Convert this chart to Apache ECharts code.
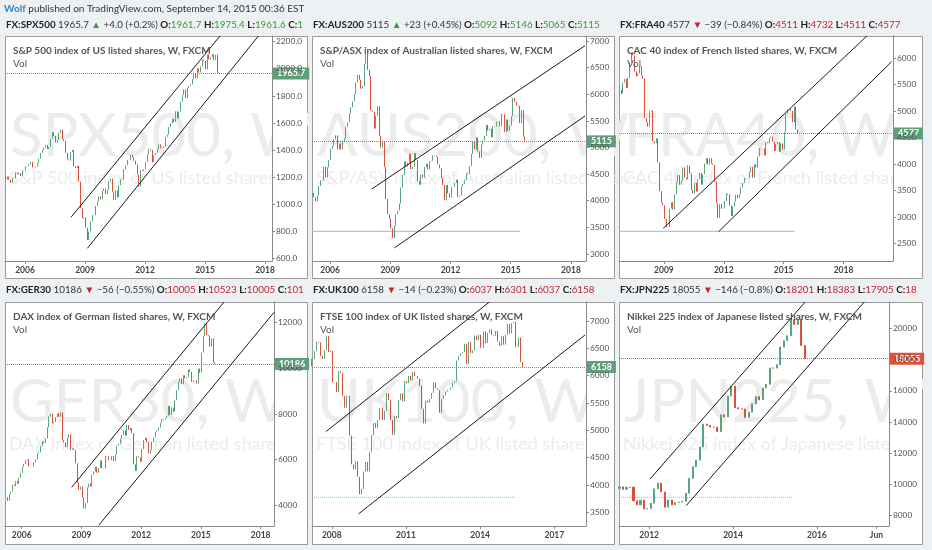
<!DOCTYPE html>
<html><head><meta charset="utf-8">
<script src="https://cdn.jsdelivr.net/npm/echarts@6/dist/echarts.min.js"></script>
<style>html,body{margin:0;padding:0;background:#eef1f4}#c{width:932px;height:550px}</style>
</head><body><div id="c"></div>
<script>
// ---------- texts ----------
const symbols = ['FX:SPX500','FX:AUS200','FX:FRA40','FX:GER30','FX:UK100','FX:JPN225'];
const lastPrices = ['1965.7','5115','4577','10186','6158','18055'];
const directions = ['up','up','down','down','down','down'];
const changes = ['+4.0 (+0.2%)','+23 (+0.45%)','\u221239 (\u22120.84%)','\u221256 (\u22120.55%)','\u221214 (\u22120.23%)','\u2212146 (\u22120.8%)'];
const opensTxt = ['1961.7','5092','4511','10005','6037','18201'];
const highsTxt = ['1975.4','5146','4732','10523','6301','18383'];
const lowsTxt = ['1961.6','5065','4511','10005','6037','17905'];
const closesTxt = ['1965.7','5115','4577','10186','6158','18055'];
const titles = ['S&P 500 index of US listed shares, W, FXCM','S&P/ASX index of Australian listed shares, W, FXCM','CAC 40 index of French listed shares, W, FXCM','DAX index of German listed shares, W, FXCM','FTSE 100 index of UK listed shares, W, FXCM','Nikkei 225 index of Japanese listed shares, W, FXCM'];
const watermarks = ['SPX500, W','AUS200, W','FRA40, W','GER30, W','UK100, W','JPN225, W'];
const descs = ['S&P 500 index of US listed shares','S&P/ASX index of Australian listed shares','CAC 40 index of French listed shares','DAX index of German listed shares','FTSE 100 index of UK listed shares','Nikkei 225 index of Japanese listed shares'];

// ---------- monthly closes ----------
const spxStart = [2005, 1], spxOpen0 = 1212;
const spxClose = [1181,1204,1181,1157,1192,1191,1234,1220,1229,1207,1249,1248,
1280,1281,1295,1311,1270,1270,1277,1304,1336,1378,1401,1418,
1438,1407,1421,1482,1531,1503,1455,1474,1527,1549,1481,1468,
1379,1331,1323,1386,1400,1280,1267,1283,1166,969,896,903,
826,735,798,873,919,919,987,1021,1057,1036,1096,1115,
1074,1104,1169,1187,1089,1031,1102,1049,1141,1183,1181,1258,
1286,1327,1326,1364,1345,1321,1292,1219,1131,1253,1247,1258,
1312,1366,1408,1398,1310,1362,1379,1407,1441,1412,1416,1426,
1498,1515,1569,1598,1631,1606,1686,1633,1682,1757,1806,1848,
1783,1859,1872,1884,1924,1960,1931,2003,1972,2018,2068,2059,
1995,2105,2068,2086,2107,2063,2104,1972,1966];

const ausStart = [2005, 2], ausOpen0 = 4106;
const ausClose = [4145,4068,3986,4098,4278,4387,4382,4641,4435,4629,4763,
4977,5024,5155,5229,4972,5074,4963,5108,5172,5386,5475,5644,
5757,5868,5995,6222,6365,6274,6104,6149,6573,6754,6460,6340,
5697,5673,5356,5598,5773,5216,4999,5116,4631,4032,3745,3659,
3478,3297,3532,3745,3813,3948,4249,4484,4739,4645,4716,4883,
4596,4640,4893,4763,4367,4301,4493,4433,4632,4695,4585,4745,
4754,4848,4842,4823,4681,4608,4425,4296,4008,4298,4140,4057,
4254,4264,4335,4396,4076,4095,4269,4316,4387,4517,4506,4649,
4879,5104,4966,5191,4926,4803,5052,5135,5218,5425,5320,5352,
5190,5405,5395,5489,5492,5396,5633,5625,5292,5527,5313,5411,
5588,5929,5861,5790,5777,5459,5699,5207,5115];

const cacStart = [2006, 10], cacOpen0 = 5250;
const cacClose = [5400,5330,5542,
5609,5434,5634,5925,6105,6055,5751,5662,5716,5848,5670,5614,
4870,4790,4707,4997,5014,4434,4392,4485,4033,3487,3263,3218,
2962,2808,2807,3159,3277,3140,3426,3653,3796,3607,3680,3936,
3739,3708,3974,3817,3508,3443,3643,3477,3715,3833,3610,3805,
4005,4110,3989,4107,4007,3982,3672,3256,2982,3242,3155,3160,
3298,3442,3424,3213,3017,3197,3291,3413,3355,3429,3557,3641,
3733,3723,3731,3856,3949,3739,3993,3934,4143,4299,4295,4296,
4165,4408,4392,4487,4519,4423,4247,4381,4416,4233,4390,4273,
4605,4951,5034,5046,5008,4790,5083,4653,4577];

const daxStart = [2005, 3], daxOpen0 = 4350;
const daxClose = [4349,4185,4460,4587,4886,4829,5044,4929,5193,5408,
5674,5797,5970,6009,5693,5683,5682,5860,6005,6269,6309,6597,
6789,6716,6917,7409,7884,8007,7584,7638,7862,8020,7871,8067,
6852,6748,6535,6949,7097,6418,6479,6422,5831,4988,4669,4810,
4338,3844,4085,4770,4941,4809,5332,5465,5675,5415,5626,5957,
5608,5598,6154,6136,5965,5966,6148,5925,6229,6601,6688,6914,
7077,7272,7041,7514,7294,7376,7159,5785,5502,6141,6089,5898,
6458,6856,6947,6761,6264,6416,6772,6970,7216,7260,7406,7612,
7776,7741,7795,7914,8349,7959,8276,8104,8594,9033,9406,9552,
9306,9692,9556,9603,9943,9833,9407,9470,9474,9327,9980,9806,
10694,11402,11966,11454,11414,10945,11309,10259,10186];

const ftseStart = [2007, 3], ftseOpen0 = 6172;
const ftseClose = [6308,6449,6621,6608,6360,6303,6467,6722,6432,6457,
5880,5884,5702,6087,6053,5626,5412,5636,4902,4377,4288,4434,
4149,3830,3926,4244,4418,4249,4608,4909,5134,5045,5191,5413,
5189,5355,5680,5553,5188,4917,5258,5225,5549,5675,5528,5900,
5863,5994,5909,6070,5990,5946,5815,5395,5128,5544,5505,5572,
5682,5872,5768,5738,5321,5571,5635,5711,5742,5783,5867,5898,
6277,6361,6412,6430,6583,6215,6621,6413,6462,6731,6651,6749,
6510,6810,6598,6780,6845,6744,6730,6820,6623,6546,6723,6566,
6749,6947,6773,6961,6984,6521,6696,6248,6158];

const nkyStart = [2011, 4], nkyOpen0 = 9755;
const nkyClose = [9850,9694,9816,9833,8955,8700,8988,8435,8455,
8803,9723,10084,9521,8543,9007,8695,8840,8870,8928,9446,10395,
11139,11559,12398,13861,13775,13677,13668,13389,14456,14328,15662,16291,
14915,14841,14828,14304,14632,15162,15621,15425,16174,16414,17460,17451,
17674,18798,19207,19520,20563,20236,20585,18890,18055];

// ---------- drawn lines (data coordinates: [year, price]) ----------
const upperLines = [
  [[2008.30, 903],[2015.75, 2242]],
  [[2008.08, 4221],[2018.70, 6912]],
  [[2008.97, 2784],[2019.17, 6422]],
  [[2008.51, 4777],[2016.16, 12908]],
  [[2007.76, 4974],[2014.37, 7348]],
  [[2012.02, 10351],[2015.72, 21684]]
];
const lowerLines = [
  [[2009.12, 674],[2017.67, 2242]],
  [[2009.20, 3113],[2018.70, 5591]],
  [[2011.74, 2719],[2020.41, 5936]],
  [[2009.88, 3123],[2018.67, 12456]],
  [[2009.08, 3468],[2018.24, 6744]],
  [[2012.88, 8641],[2017.13, 21684]]
];
const supportLines = [
  null,
  [[2005.10, 3426],[2015.46, 3426]],
  [[2006.75, 2727],[2015.55, 2727]],
  null,
  [[2007.20, 3774],[2015.41, 3774]],
  [[2011.28, 9179],[2015.44, 9179]]
];

// ---------- axes ----------
const xMin = [2005.0, 2005.10, 2006.75, 2005.16, 2007.20, 2011.28];
const xMax = [2018.35, 2018.75, 2020.48, 2018.67, 2018.28, 2017.72];
const yMin = [580, 2868, 2165, 3079, 3248, 7342];
const yMax = [2242, 7094, 6422, 12908, 7348, 21684];
const xTicks = [
  [2006,2009,2012,2015,2018],
  [2006,2009,2012,2015,2018],
  [2009,2012,2015,2018],
  [2006,2009,2012,2015,2018],
  [2008,2011,2014,2017],
  [2012,2014,2016,2017.42]
];
const xTickLabels = [
  ['2006','2009','2012','2015','2018'],
  ['2006','2009','2012','2015','2018'],
  ['2009','2012','2015','2018'],
  ['2006','2009','2012','2015','2018'],
  ['2008','2011','2014','2017'],
  ['2012','2014','2016','Jun']
];
const yTicks = [
  [600,800,1000,1200,1400,1600,1800,2000,2200],
  [3000,3500,4000,4500,5000,5500,6000,6500,7000],
  [2500,3000,3500,4000,4500,5000,5500,6000],
  [4000,6000,8000,10000,12000],
  [3500,4000,4500,5000,5500,6000,6500,7000],
  [8000,10000,12000,14000,16000,18000,20000]
];
const yDecimals = [1,0,0,0,0,0];

const starts = [spxStart, ausStart, cacStart, daxStart, ftseStart, nkyStart];
const open0s = [spxOpen0, ausOpen0, cacOpen0, daxOpen0, ftseOpen0, nkyOpen0];
const closeSeries = [spxClose, ausClose, cacClose, daxClose, ftseClose, nkyClose];

// ---------- layout / style ----------
const FONT = 'Lato, "Noto Sans", sans-serif';
const UP = '#5aa57b', DOWN = '#dc4f3c';
const GREEN_TXT = '#3a9b3a', RED_TXT = '#c0262d';
const layout = [
  {gx:5,   gy:36,  gw:267, gh:225, px:5,   py:36,  pw:302, ph:242, hx:6,   hy:24.5},
  {gx:312, gy:36,  gw:274, gh:225, px:312, py:36,  pw:302, ph:242, hx:313, hy:24.5},
  {gx:619, gy:36,  gw:274, gh:225, px:619, py:36,  pw:303, ph:242, hx:620, hy:24.5},
  {gx:5,   gy:302, gw:269, gh:224, px:5,   py:302, pw:302, ph:242, hx:6,   hy:290},
  {gx:312, gy:302, gw:274, gh:224, px:312, py:302, pw:302, ph:242, hx:313, hy:290},
  {gx:619, gy:302, gw:270, gh:224, px:619, py:302, pw:303, ph:242, hx:620, hy:290}
];
const boxColors = ['#5c9f79','#5c9f79','#5c9f79','#5c9f79','#5c9f79','#e0503a'];
const barWidths = [1,1,1,1,1.2,1.6];

function buildCandles(start, open0, closes) {
  let prev = open0;
  return closes.map((c, k) => {
    const x = start[0] + (start[1] - 1 + k + 0.5) / 12;
    const o = prev; prev = c;
    return [x, o, c, Math.min(o, c), Math.max(o, c)];
  });
}

const grids = [], xAxes = [], yAxes = [], series = [], graphics = [];

graphics.push({type:'text', x:4, y:9, z:20, silent:true, style:{
  text:'{w|Wolf} published on TradingView.com, September 14, 2015 00:36 EST',
  fill:'#333', fontSize:10, fontFamily:FONT, verticalAlign:'middle',
  rich:{w:{fill:'#2b87d3', fontSize:10, fontFamily:FONT, fontWeight:'bold'}}
}});

layout.forEach((L, i) => {
  grids.push({left:L.gx, top:L.gy, width:L.gw, height:L.gh, outerBoundsMode:'none'});
  const xt = xTicks[i], xl = xTickLabels[i];
  xAxes.push({
    gridIndex:i, type:'value', min:xMin[i], max:xMax[i], z:5,
    axisLine:{show:true, onZero:false, lineStyle:{color:'#8a8a8a', width:1}},
    axisTick:{show:true, length:3, lineStyle:{color:'#8a8a8a'}, customValues:xt},
    axisLabel:{customValues:xt, fontSize:8.5, fontWeight:'bold', color:'#444', margin:5, fontFamily:FONT,
      formatter:(v) => { const k = xt.findIndex(t => Math.abs(t - v) < 1e-6); return k >= 0 ? xl[k] : ''; }},
    splitLine:{show:false}
  });
  yAxes.push({
    gridIndex:i, type:'value', position:'right', min:yMin[i], max:yMax[i], z:5,
    axisLine:{show:true, lineStyle:{color:'#8a8a8a', width:1}},
    axisTick:{show:true, length:3, lineStyle:{color:'#8a8a8a'}, customValues:yTicks[i]},
    axisLabel:{customValues:yTicks[i], fontSize:8.3, color:'#555', margin:4, fontFamily:FONT,
      formatter:(v) => Number(v).toFixed(yDecimals[i])},
    splitLine:{show:false}
  });
  series.push({
    type:'candlestick', xAxisIndex:i, yAxisIndex:i, z:6, silent:true, animation:false, clip:true,
    data: buildCandles(starts[i], open0s[i], closeSeries[i]),
    encode:{x:0, y:[1,2,3,4]},
    barWidth: barWidths[i],
    itemStyle:{color:UP, color0:DOWN, borderColor:UP, borderColor0:DOWN, borderWidth:1},
    markLine:{
      symbol:['none','none'], silent:true, animation:false,
      lineStyle:{type:'dotted', color:boxColors[i], width:1},
      label:{show:true, position:'end', formatter:lastPrices[i], color:'#fff', backgroundColor:boxColors[i],
        padding:[2,4,1,4], fontSize:9, fontWeight:'bold', distance:1, fontFamily:FONT},
      data:[{yAxis: parseFloat(lastPrices[i])}]
    }
  });
  [upperLines[i], lowerLines[i]].forEach(ln => series.push({
    type:'line', xAxisIndex:i, yAxisIndex:i, z:7, silent:true, animation:false, clip:true,
    data:ln, symbol:'none', lineStyle:{color:'#1a1a1a', width:1}
  }));
  if (supportLines[i]) series.push({
    type:'line', xAxisIndex:i, yAxisIndex:i, z:6, silent:true, animation:false, clip:true,
    data:supportLines[i], symbol:'none', lineStyle:{color:'#7cc3e6', width:1, type: i >= 4 ? 'dotted' : 'solid'}
  });

  graphics.push({type:'rect', z:1, silent:true, shape:{x:L.px + 0.5, y:L.py + 0.5, width:L.pw, height:L.ph},
    style:{fill:'#fff', stroke:'#9a9a9a', lineWidth:1}});
  graphics.push({type:'text', z:2, silent:true, x:L.gx + 5, y:L.gy + 101, style:{text:watermarks[i],
    fill:'#ececec', fontSize:60, fontFamily:FONT, verticalAlign:'middle'}});
  graphics.push({type:'text', z:2, silent:true, x:L.gx + 4, y:L.gy + 142, style:{text:descs[i],
    fill:'#ececec', fontSize:18, fontFamily:FONT, verticalAlign:'middle'}});
  graphics.push({type:'rect', z:3, silent:true, shape:{x:L.gx + L.gw + 1, y:L.gy + 60, width:L.px + L.pw - (L.gx + L.gw) - 1, height:110},
    style:{fill:'#fff'}});
  graphics.push({type:'text', z:20, silent:true, x:L.gx + 8, y:L.gy + 14.5, style:{text:titles[i],
    fill:'#555', fontSize:10, fontWeight:'bold', fontFamily:FONT, verticalAlign:'middle'}});
  graphics.push({type:'text', z:20, silent:true, x:L.gx + 8, y:L.gy + 28, style:{text:'Vol',
    fill:'#555', fontSize:10, fontFamily:FONT, verticalAlign:'middle'}});
  const c = directions[i] === 'up' ? 'g' : 'r';
  const tri = directions[i] === 'up' ? '\u25B2' : '\u25BC';
  const base = {fontSize:9.8, fontFamily:FONT};
  graphics.push({type:'text', z:20, silent:true, x:L.hx, y:L.hy, style:{
    text:`{b|${symbols[i]}} {n|${lastPrices[i]}} {${c}|${tri}} {n|${changes[i]}} {b|O:}{${c}|${opensTxt[i]}} {b|H:}{${c}|${highsTxt[i]}} {b|L:}{${c}|${lowsTxt[i]}} {b|C:}{${c}|${closesTxt[i]}}`,
    fill:'#333', fontSize:9.8, fontFamily:FONT, verticalAlign:'middle',
    width:L.pw - 2, overflow:'truncate', ellipsis:'',
    rich:{
      b:Object.assign({fill:'#222', fontWeight:'bold'}, base),
      n:Object.assign({fill:'#333'}, base),
      g:Object.assign({fill:GREEN_TXT}, base),
      r:Object.assign({fill:RED_TXT}, base)
    }
  }});
});

const chart = echarts.init(document.getElementById('c'), null, {renderer:'canvas'});
chart.setOption({
  backgroundColor:'#eef1f4',
  animation:false,
  grid:grids, xAxis:xAxes, yAxis:yAxes, series:series, graphic:graphics
});
</script></body></html>
